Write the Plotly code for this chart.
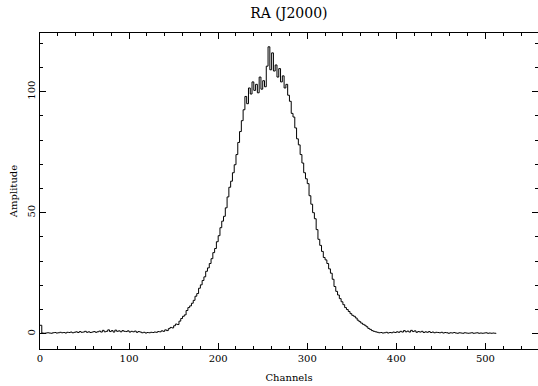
import plotly.graph_objects as go

# Channel sampling (every 2nd channel)
CH_START = 0
CH_STEP = 2

amplitude = [
    # 0-30
    3.5, 0.3, 0.2, 0.3, 0.4, 0.3, 0.2, 0.4, 0.5, 0.3, 0.4, 0.6, 0.4, 0.5, 0.3, 0.6,
    # 32-62
    0.5, 0.7, 0.4, 0.6, 0.8, 0.5, 0.9, 0.6, 0.7, 1.0, 0.6, 0.8, 0.5, 0.7, 0.9, 0.6,
    # 64-94
    0.8, 1.1, 0.7, 1.4, 0.8, 1.0, 1.6, 0.9, 1.3, 0.7, 1.5, 1.0, 1.2, 0.8, 1.3, 1.0,
    # 96-126
    0.9, 1.2, 0.7, 1.0, 0.8, 1.1, 0.6, 0.9, 0.7, 0.4, 0.6, 0.3, 0.5, 0.4, 0.6, 0.5,
    # 128-158
    0.7, 0.6, 0.9, 0.8, 1.2, 1.0, 1.6, 1.3, 2.1, 2.6, 2.4, 3.3, 4.0, 3.8, 5.2, 6.3,
    # 160-190
    7.2, 7.8, 9.6, 10.8, 11.5, 12.6, 13.8, 15.5, 16.6, 18.8, 20.2, 22.0, 23.5, 25.8, 27.2, 29.0,
    # 192-222
    31.0, 33.5, 35.2, 38.0, 40.5, 43.8, 46.5, 48.5, 52.0, 56.5, 60.5, 63.0, 66.5, 69.8, 74.0, 79.0,
    # 224-254
    83.5, 88.0, 92.5, 98.0, 95.0, 101.5, 99.0, 104.0, 100.5, 103.0, 99.5, 106.0, 101.0, 104.5, 102.0, 110.5,
    # 256-286
    118.5, 109.0, 116.0, 108.5, 111.0, 106.0, 109.5, 104.0, 106.5, 101.5, 103.0, 98.5, 96.0, 91.0, 89.5, 85.0,
    # 288-318
    80.5, 78.0, 74.0, 70.5, 66.5, 64.0, 62.0, 57.0, 53.5, 50.0, 47.5, 43.0, 39.0, 36.5, 34.0, 31.5,
    # 320-350
    30.5, 29.0, 26.8, 25.0, 22.5, 19.5, 17.5, 16.0, 14.5, 13.2, 12.0, 10.8, 10.0, 9.2, 8.3, 7.6,
    # 352-382
    7.2, 6.5, 5.6, 5.0, 4.4, 3.9, 3.5, 2.9, 2.2, 1.8, 1.3, 1.0, 0.8, 0.6, 0.4, 0.5,
    # 384-414
    0.3, 0.4, 0.6, 0.3, 0.5, 0.4, 0.7, 0.5, 0.8, 0.6, 1.0, 0.7, 1.3, 0.8, 1.1, 0.7,
    # 416-446
    1.4, 0.9, 1.2, 0.6, 0.9, 0.7, 1.0, 0.5, 0.8, 0.6, 0.9, 0.5, 0.7, 0.4, 0.6, 0.5,
    # 448-478
    0.4, 0.6, 0.3, 0.5, 0.4, 0.2, 0.4, 0.3, 0.5, 0.3, 0.2, 0.4, 0.3, 0.2, 0.4, 0.3,
    # 480-510
    0.2, 0.3, 0.4, 0.2, 0.3, 0.4, 0.2, 0.3, 0.2, 0.3, 0.4, 0.2, 0.3, 0.2, 0.3, 0.2,
    # 512
    0.3,
]

channels = [CH_START + CH_STEP * i for i in range(len(amplitude))]

TITLE = "RA (J2000)"
X_TITLE = "Channels"
Y_TITLE = "Amplitude"
X_TICKS = [0, 100, 200, 300, 400, 500]
Y_TICKS = [0, 50, 100]

FONT = "DejaVu Serif"

fig = go.Figure()
fig.add_trace(go.Scatter(
    x=channels, y=amplitude, mode="lines",
    line=dict(color="black", width=1, shape="hv"),
    showlegend=False, hoverinfo="skip",
))

axis_common = dict(
    showline=True, linecolor="black", linewidth=1, mirror="ticks",
    ticks="inside", tickcolor="black", tickwidth=1, ticklen=6,
    showgrid=False, zeroline=False,
    tickfont=dict(family=FONT, size=10, color="black"),
)

fig.update_layout(
    width=538, height=386,
    margin=dict(l=40, r=0, t=33, b=37),
    paper_bgcolor="white", plot_bgcolor="white",
    title=dict(text=TITLE, x=0.537, xanchor="center", y=0.966, yanchor="middle",
               yref="container", font=dict(family=FONT, size=14, color="black")),
    xaxis=dict(
        range=[0, 559], tickvals=X_TICKS,
        minor=dict(dtick=20, tick0=0, ticks="inside", ticklen=3, tickcolor="black"),
        title=dict(text=X_TITLE, font=dict(family=FONT, size=10, color="black"), standoff=10),
        **axis_common,
    ),
    yaxis=dict(
        range=[-6.3, 124.2], tickvals=Y_TICKS, tickangle=-90,
        minor=dict(dtick=10, tick0=0, ticks="inside", ticklen=3, tickcolor="black"),
        title=dict(text=Y_TITLE, font=dict(family=FONT, size=10, color="black"), standoff=6),
        **axis_common,
    ),
)

fig.write_html("out.html")
